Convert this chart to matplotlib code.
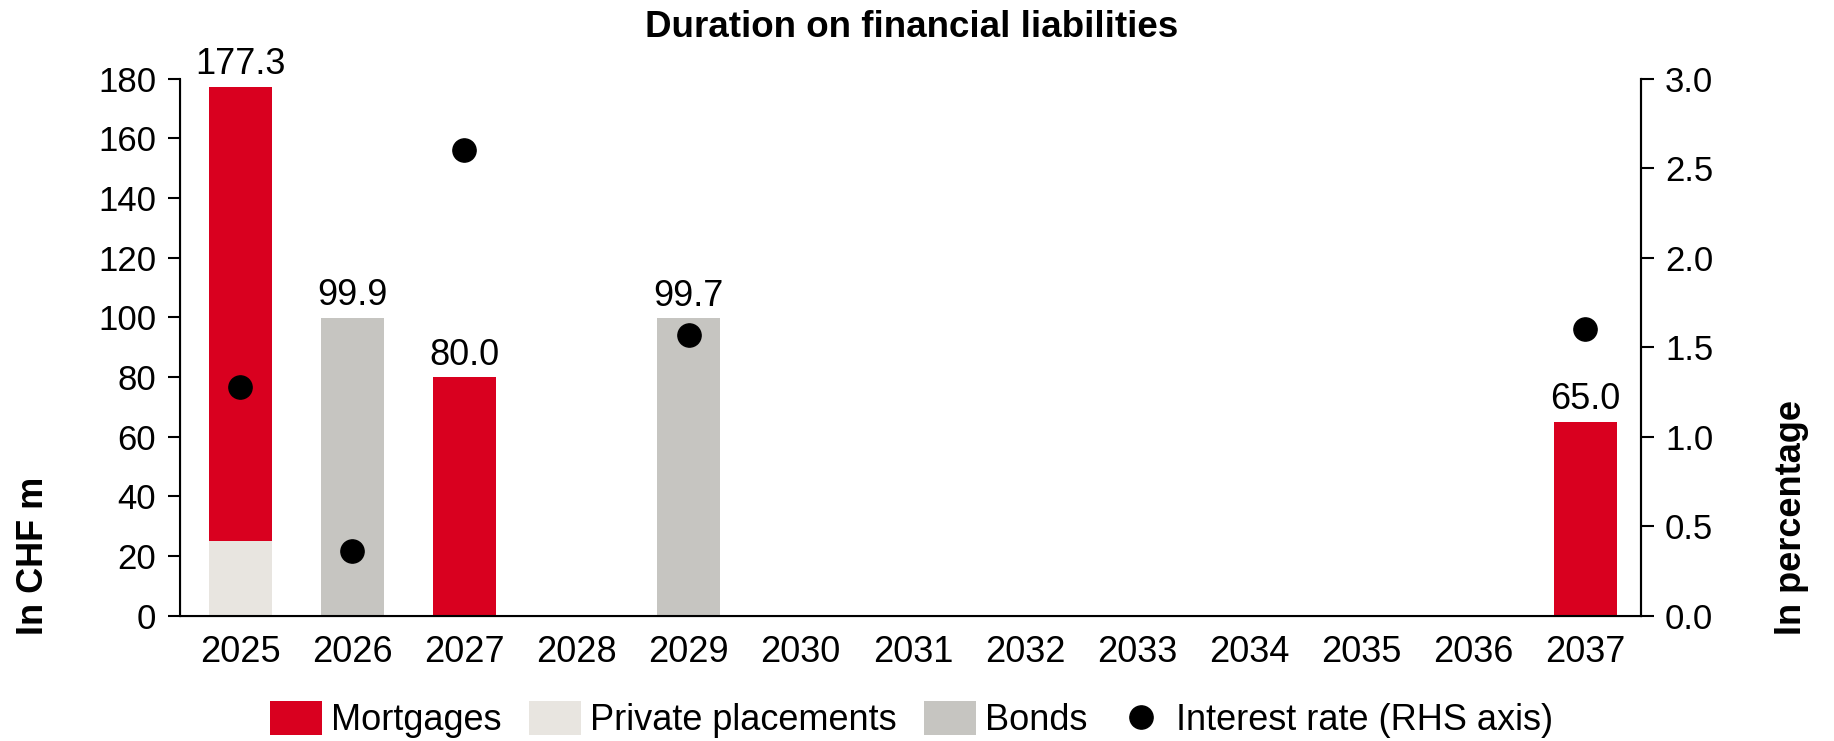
import matplotlib
matplotlib.use('Agg')
import matplotlib.pyplot as plt
import numpy as np

plt.rcParams['font.family'] = ['Liberation Sans', 'DejaVu Sans']

years = ['2025', '2026', '2027', '2028', '2029', '2030', '2031',
         '2032', '2033', '2034', '2035', '2036', '2037']
mortgages = [152.3, 0, 80.0, 0, 0, 0, 0, 0, 0, 0, 0, 0, 65.0]
private_placements = [25.0, 0, 0, 0, 0, 0, 0, 0, 0, 0, 0, 0, 0]
bonds = [0, 99.9, 0, 0, 99.7, 0, 0, 0, 0, 0, 0, 0, 0]
totals = [177.3, 99.9, 80.0, None, 99.7, None, None, None, None, None, None, None, 65.0]
rate_years = ['2025', '2026', '2027', '2029', '2037']
rates = [1.28, 0.36, 2.60, 1.57, 1.60]

red = '#d9001f'
light = '#e8e5e0'
grey = '#c6c5c1'

x = np.arange(len(years))
pp = np.array(private_placements)
mo = np.array(mortgages)
bo = np.array(bonds)

fig = plt.figure(figsize=(18.34, 7.41), dpi=100)
ax = fig.add_axes([0.098, 0.169, 0.797, 0.725])

w = 0.56
ax.bar(x, mo, w, bottom=pp, color=red, label='Mortgages')
ax.bar(x, pp, w, color=light, label='Private placements')
ax.bar(x, bo, w, bottom=pp + mo, color=grey, label='Bonds')

for xi, t in zip(x, totals):
    if t is not None:
        ax.text(xi, t + 1.5, f'{t:.1f}', ha='center', va='bottom', fontsize=26)

ax.set_ylim(0, 180)
ax.set_yticks(range(0, 181, 20))
ax.set_xlim(-0.54, 12.5)
ax.set_xticks(x)
ax.set_xticklabels(years)
ax.tick_params(axis='x', length=0, labelsize=26, pad=14)
ax.tick_params(axis='y', direction='out', length=9, width=1.5, labelsize=25, pad=8)
ax.spines['top'].set_visible(False)
for s in ['left', 'right', 'bottom']:
    ax.spines[s].set_linewidth(1.5)

ax2 = ax.twinx()
rx = [years.index(y) for y in rate_years]
ax2.scatter(rx, rates, s=280, color='black', zorder=5, label='Interest rate (RHS axis)')
ax2.set_ylim(0, 3.0)
ax2.set_yticks(np.arange(0, 3.01, 0.5))
ax2.set_yticklabels([f'{v:.1f}' for v in np.arange(0, 3.01, 0.5)])
ax2.tick_params(axis='y', direction='out', length=9, width=1.5, labelsize=25, pad=8)
ax2.spines['top'].set_visible(False)
ax2.spines['right'].set_linewidth(1.5)

fig.text(0.018, 0.143, 'In CHF m', rotation=90, ha='center', va='bottom',
         fontsize=26, fontweight='bold')
fig.text(0.977, 0.143, 'In percentage', rotation=90, ha='center', va='bottom',
         fontsize=26, fontweight='bold')
fig.text(0.497, 0.963, 'Duration on financial liabilities', ha='center', va='center',
         fontsize=26.5, fontweight='bold')

h1, l1 = ax.get_legend_handles_labels()
h2, l2 = ax2.get_legend_handles_labels()
fig.legend(h1 + h2, l1 + l2, loc='lower center', bbox_to_anchor=(0.497, -0.04), ncol=4,
           frameon=False, fontsize=26, handlelength=1.45, handleheight=1.1,
           handletextpad=0.25, columnspacing=0.75)

fig.savefig('out.png', dpi=100)
